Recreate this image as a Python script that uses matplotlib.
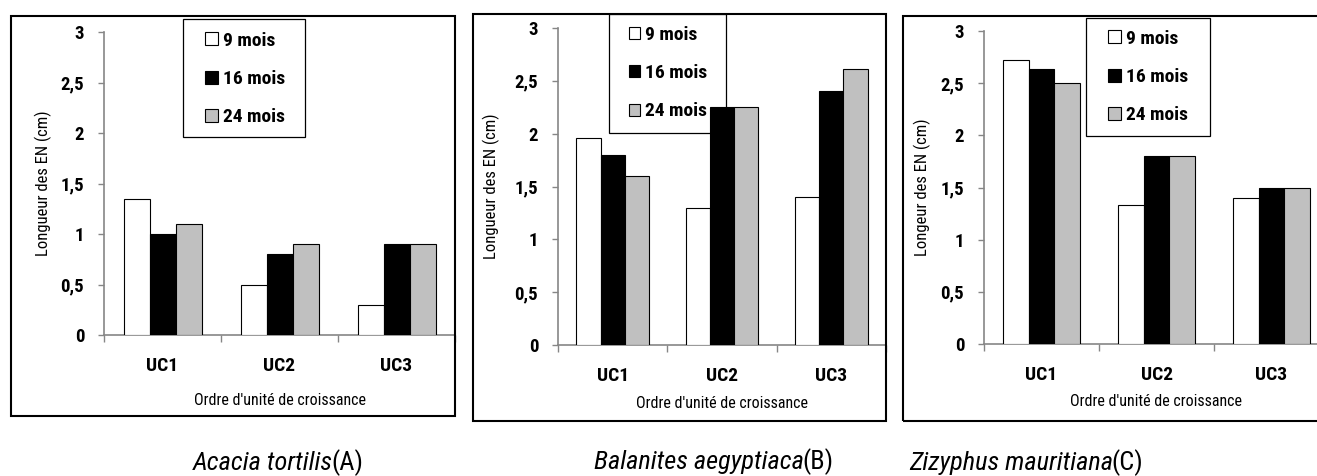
import numpy as np
import matplotlib
matplotlib.use("Agg")
import matplotlib.pyplot as plt
from matplotlib.patches import Rectangle
from matplotlib.transforms import blended_transform_factory

# figure size in pixels
W, H = 1317, 476

categories = ['UC1', 'UC2', 'UC3']
series_names = ['9 mois', '16 mois', '24 mois']
series_colors = ['white', 'black', '#c0c0c0']

# Acacia tortilis (A)
acacia_9 = [1.35, 0.5, 0.3]
acacia_16 = [1.0, 0.8, 0.9]
acacia_24 = [1.1, 0.9, 0.9]

# Balanites aegyptiaca (B)
balanites_9 = [1.96, 1.3, 1.4]
balanites_16 = [1.8, 2.25, 2.4]
balanites_24 = [1.6, 2.25, 2.61]

# Zizyphus mauritiana (C)
zizyphus_9 = [2.72, 1.33, 1.4]
zizyphus_16 = [2.64, 1.8, 1.5]
zizyphus_24 = [2.5, 1.8, 1.5]

ytick_values = [0, 0.5, 1, 1.5, 2, 2.5, 3]
ytick_labels = ['0', '0,5', '1', '1,5', '2', '2,5', '3']

ylabels = ['Longueur des EN (cm)', 'Longueur des EN (cm)', 'Longeur des EN (cm)']
xlabel = "Ordre d'unité de croissance"
species = ['Acacia tortilis', 'Balanites aegyptiaca', 'Zizyphus mauritiana']
tags = ['(A)', '(B)', '(C)']

# narrow families first, if any are there
FONT = ['Roboto Condensed', 'DejaVu Sans Condensed', 'Liberation Sans Narrow',
        'Liberation Sans', 'DejaVu Sans']
plt.rcParams['font.family'] = FONT

AXIS_GRAY = '#868686'


def fx(px):
    return px / W


def fy(py):
    return 1 - py / H


# layout of each panel, in pixels of the output image
panels = [
    dict(frame=(11, 16, 455, 416), plot=(104, 32, 455, 335), legbox=(183, 19, 305, 137),
         leg=(205, 79), hsize=13, ylab_x=43, xlab_top=393, cap_join=332, cap_base=470),
    dict(frame=(473, 14, 886, 421), plot=(558, 28, 886, 345), legbox=(609, 14, 726, 133),
         leg=(629, 73), hsize=11, ylab_x=491, xlab_top=396, cap_join=803, cap_base=469),
    dict(frame=(903, 16, 1332, 421), plot=(984, 31, 1329, 344), legbox=(1086, 18, 1210, 136),
         leg=(1108, 77), hsize=13, ylab_x=922, xlab_top=394, cap_join=1112, cap_base=470),
]

data = [
    (acacia_9, acacia_16, acacia_24),
    (balanites_9, balanites_16, balanites_24),
    (zizyphus_9, zizyphus_16, zizyphus_24),
]

fig = plt.figure(figsize=(W / 100, H / 100), dpi=100)

bw = 1 / 4.5  # excel gap width 150%
x = np.arange(len(categories))

for k, p in enumerate(panels):
    x0, ytop, x1, ybot = p['plot']
    ax = fig.add_axes([fx(x0), fy(ybot), (x1 - x0) / W, (ybot - ytop) / H])

    bars = []
    for i, vals in enumerate(data[k]):
        b = ax.bar(x + (i - 1) * bw, vals, bw, color=series_colors[i],
                   edgecolor='black', linewidth=0.8, zorder=3, label=series_names[i])
        bars.append(b)

    ax.set_xlim(-0.5, len(categories) - 0.5)
    ax.set_ylim(0, 3)

    for s in ['top', 'right']:
        ax.spines[s].set_visible(False)
    for s in ['left', 'bottom']:
        ax.spines[s].set_color(AXIS_GRAY)
        ax.spines[s].set_linewidth(1.2)

    ax.set_yticks(ytick_values, ytick_labels)
    ax.tick_params(axis='y', direction='out', length=4.3, width=1, color=AXIS_GRAY, pad=10)
    for t in ax.get_yticklabels():
        t.set_fontsize(13.5)
        t.set_fontweight('bold')

    # ticks between categories, labels centred on categories
    ax.set_xticks(np.arange(len(categories) + 1) - 0.5, [''] * (len(categories) + 1))
    ax.set_xticks(x, categories, minor=True)
    ax.tick_params(axis='x', which='major', direction='out', length=5, width=1, color=AXIS_GRAY)
    ax.tick_params(axis='x', which='minor', length=0, pad=15.5)
    for t in ax.get_xticklabels(minor=True):
        t.set_fontsize(14)
        t.set_fontweight('bold')

    ax.set_ylabel(ylabels[k], fontsize=12, va='center')
    ax.yaxis.set_label_coords(fx(p['ylab_x']), 0.5,
                              transform=blended_transform_factory(fig.transFigure, ax.transAxes))
    ax.set_xlabel(xlabel, fontsize=11.5, va='top')
    ax.xaxis.set_label_coords(0.5, fy(p['xlab_top']),
                              transform=blended_transform_factory(ax.transAxes, fig.transFigure))

    # legend box (bars are drawn over it in panel B)
    lx0, ly0, lx1, ly1 = p['legbox']
    box = Rectangle((fx(lx0), fy(ly1)), (lx1 - lx0) / W, (ly1 - ly0) / H,
                    transform=fig.transFigure, facecolor='white', edgecolor='black',
                    linewidth=0.9, zorder=2, clip_on=False)
    ax.add_patch(box)
    hs = p['hsize'] / 19.4
    leg = ax.legend(handles=bars, loc='center left',
                    bbox_to_anchor=(fx(p['leg'][0]), fy(p['leg'][1])),
                    bbox_transform=fig.transFigure, frameon=False,
                    borderpad=0, borderaxespad=0, handlelength=hs, handleheight=hs,
                    handletextpad=0.25, labelspacing=1.05,
                    prop={'size': 14, 'weight': 'bold', 'family': FONT})
    leg.set_zorder(2.2)

    # outer frame
    fx0, fy0, fx1, fy1 = p['frame']
    fig.add_artist(Rectangle((fx(fx0), fy(fy1)), (fx1 - fx0) / W, (fy1 - fy0) / H,
                             transform=fig.transFigure, fill=False, edgecolor='black',
                             linewidth=1.5, zorder=10))

    # caption: species name in italics, letter upright
    fig.text(fx(p['cap_join'] + 1), fy(p['cap_base']), species[k], style='italic',
             fontsize=19, ha='right', va='baseline')
    fig.text(fx(p['cap_join'] - 1), fy(p['cap_base']), tags[k],
             fontsize=19, ha='left', va='baseline')

fig.savefig('out.png', dpi=100)
